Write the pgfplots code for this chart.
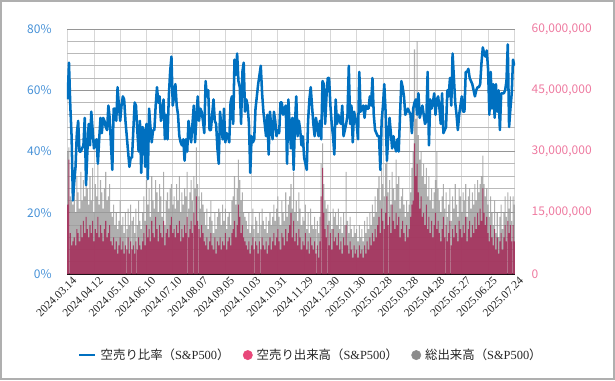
\documentclass[border=0pt]{standalone}
\usepackage{fontspec}
\setmainfont{Liberation Serif}
\newfontfamily\cjk{Noto Sans CJK JP}
\usepackage{pgfplots}
\pgfplotsset{compat=1.18}
\usepackage{pgfplotstable}
\definecolor{lineblue}{RGB}{0,112,192}
\definecolor{leftblue}{RGB}{70,145,215}
\definecolor{rightpink}{RGB}{238,122,160}
\definecolor{legpink}{RGB}{232,72,122}
\definecolor{leggray}{RGB}{140,140,140}
\definecolor{barpink}{RGB}{165,45,90}
\definecolor{bargray}{RGB}{155,155,155}
\definecolor{gridmaj}{RGB}{150,150,150}
\definecolor{gridmin}{RGB}{185,185,185}
\definecolor{gridx}{RGB}{215,215,215}
\definecolor{framegray}{RGB}{175,175,175}
\pgfplotstableread{
i s t r
0 17 30 57
1 28 31 69
2 10 19 55
3 7 18 45
4 8 17 24
5 9 22 30
6 7 15 35
7 11 24 46
8 10 20 50
9 8 16 40
10 12 25 40
11 9 18 41
12 13 23 42
13 10 19 51
14 14 29 29
15 11 21 40
16 9 17 49
17 12 24 42
18 10 18 53
19 13 26 47
20 8 15 41
21 11 22 43
22 10 19 44
23 14 27 36
24 9 17 44
25 12 23 51
26 10 20 46
27 8 16 51
28 11 21 50
29 13 25 48
30 9 18 47
31 10 19 55
32 12 22 51
33 8 15 42
34 7 14 34
35 9 17 54
36 6 12 54
37 8 15 50
38 5 11 61
39 7 13 55
40 9 18 50
41 6 12 55
42 8 14 58
43 5 10 57
44 7 15 50
45 6 11 45
46 9 16 40
47 5 12 35
48 8 17 38
49 6 13 38
50 7 14 47
51 5 10 56
52 8 16 55
53 6 12 47
54 9 18 40
55 7 13 50
56 6 11 33
57 8 15 48
58 10 19 47
59 7 13 35
60 12 23 49
61 9 17 31
62 11 21 54
63 8 14 48
64 13 24 43
65 10 18 47
66 9 16 47
67 14 23 55
68 11 20 61
69 8 15 56
70 12 22 58
71 10 19 50
72 9 14 53
73 13 25 57
74 7 12 44
75 10 18 52
76 11 20 44
77 9 16 58
78 12 21 66
79 14 22 71
80 10 17 55
81 11 19 58
82 9 16 62
83 12 22 55
84 10 18 52
85 13 24 45
86 8 15 43
87 11 20 42
88 9 17 44
89 12 21 37
90 10 19 44
91 14 25 40
92 9 16 50
93 11 20 46
94 13 23 43
95 10 18 49
96 15 24 55
97 12 21 43
98 19 31 51
99 13 22 58
100 11 19 50
101 9 16 54
102 12 20 53
103 10 17 50
104 8 15 46
105 7 12 63
106 9 16 58
107 6 11 60
108 8 14 47
109 10 18 47
110 7 13 52
111 6 10 57
112 9 15 50
113 5 11 49
114 8 14 41
115 7 16 36
116 9 15 53
117 6 12 48
118 8 17 44
119 7 13 54
120 10 16 43
121 6 11 46
122 8 14 45
123 9 15 43
124 7 12 56
125 10 18 58
126 11 19 49
127 13 24 70
128 9 17 65
129 12 21 72
130 17 28 63
131 14 23 61
132 10 18 49
133 12 20 66
134 9 15 69
135 8 14 53
136 7 13 57
137 6 11 55
138 8 15 49
139 5 10 33
140 7 12 45
141 9 16 43
142 6 11 44
143 8 14 54
144 7 13 58
145 5 10 62
146 8 15 65
147 6 12 68
148 9 16 59
149 7 13 53
150 6 11 49
151 8 14 45
152 5 10 52
153 7 13 39
154 9 15 53
155 6 12 48
156 8 14 44
157 10 17 53
158 7 13 50
159 9 16 45
160 11 19 47
161 8 14 46
162 6 12 56
163 10 18 56
164 9 15 52
165 7 13 54
166 11 20 55
167 8 14 36
168 10 17 57
169 12 19 48
170 15 22 41
171 9 16 51
172 13 25 34
173 8 15 49
174 10 18 58
175 7 13 45
176 11 20 50
177 9 16 47
178 6 12 42
179 8 14 45
180 7 13 38
181 10 17 36
182 6 11 34
183 8 15 50
184 5 10 57
185 9 16 61
186 7 12 55
187 6 11 49
188 8 14 45
189 5 11 51
190 7 13 48
191 4 10 45
192 8 14 50
193 19 27 44
194 26 32 63
195 15 22 62
196 11 18 49
197 9 16 58
198 12 17 64
199 7 13 64
200 10 15 55
201 6 11 49
202 11 16 45
203 8 14 39
204 9 15 57
205 7 12 49
206 10 16 52
207 6 11 50
208 8 14 49
209 5 10 55
210 9 15 45
211 7 12 47
212 12 25 49
213 7 13 52
214 5 10 68
215 8 14 49
216 6 11 55
217 4 9 43
218 7 12 53
219 5 10 51
220 6 11 49
221 4 8 44
222 7 12 66
223 5 9 53
224 6 11 54
225 4 8 55
226 7 13 51
227 5 10 55
228 8 14 54
229 6 11 54
230 9 15 58
231 7 12 55
232 10 17 64
233 8 14 52
234 11 19 47
235 9 15 46
236 12 21 45
237 14 24 45
238 10 18 34
239 16 26 50
240 13 22 55
241 11 19 62
242 15 27 53
243 19 28 37
244 12 20 45
245 14 23 51
246 10 17 46
247 17 25 41
248 13 21 45
249 11 18 42
250 15 28 40
251 12 22 44
252 14 24 40
253 9 16 52
254 11 19 63
255 13 21 61
256 10 17 58
257 8 14 52
258 12 18 53
259 9 15 54
260 11 17 53
261 14 20 52
262 17 26 46
263 18 30 54
264 32 55 56
265 24 38 57
266 27 57 52
267 20 34 59
268 16 28 51
269 19 30 53
270 14 24 55
271 15 27 52
272 12 22 49
273 17 26 50
274 11 19 66
275 14 24 42
276 10 18 57
277 13 21 54
278 9 16 56
279 12 20 59
280 15 23 52
281 11 30 57
282 13 21 58
283 10 18 54
284 8 15 49
285 11 19 59
286 14 22 46
287 9 16 47
288 12 20 48
289 8 14 60
290 10 17 58
291 13 21 64
292 7 13 55
293 11 19 72
294 9 16 64
295 12 22 56
296 10 17 52
297 8 14 47
298 13 21 52
299 11 19 55
300 9 15 58
301 12 20 53
302 10 18 53
303 14 22 66
304 8 14 66
305 11 19 67
306 13 21 64
307 9 16 63
308 12 20 62
309 10 17 60
310 14 22 58
311 11 18 60
312 15 23 61
313 12 20 61
314 16 22 62
315 13 24 69
316 21 29 74
317 15 22 72
318 12 19 71
319 14 21 73
320 10 17 67
321 8 14 52
322 12 19 66
323 9 15 54
324 7 12 62
325 11 18 51
326 6 10 62
327 9 15 53
328 5 9 60
329 8 14 47
330 10 17 59
331 6 11 59
332 9 15 59
333 12 19 60
334 8 14 63
335 13 20 75
336 10 16 48
337 12 19 54
338 8 13 59
339 12 19 70
340 8 17 68
}\chartdata
\begin{document}
\begin{tikzpicture}
\path[use as bounding box] (0,0) rectangle (461.25pt,285pt);
\draw[framegray, line width=1.2pt] (0.6pt,0.6pt) rectangle (460.65pt,284.4pt);
\begin{axis}[
  at={(50.25pt,79.5pt)}, anchor=south west, scale only axis,
  width=336pt, height=183.75pt,
  xmin=-0.5, xmax=340.5, ymin=0, ymax=60,
  axis x line*=bottom, axis y line*=right,
  x axis line style={black, line width=0.9pt},
  y axis line style={draw=none},
  xtick={0,20,...,340},
  xticklabels={2024.03.14,2024.04.12,2024.05.10,2024.06.10,2024.07.10,2024.08.07,2024.09.05,2024.10.03,2024.10.31,2024.11.29,2024.12.30,2025.01.30,2025.02.28,2025.03.28,2025.04.28,2025.05.27,2025.06.25,2025.07.24},
  xticklabel style={rotate=45, anchor=north east, font=\fontsize{8.6}{9}\selectfont, text=black!85, inner sep=1pt, xshift=2.5pt, yshift=-2pt},
  ytick={0,15,30,45,60},
  yticklabels={0,{15,000,000},{30,000,000},{45,000,000},{60,000,000}},
  yticklabel style={font=\cjk\fontsize{9}{10}\selectfont, text=rightpink, xshift=9pt},
  minor ytick={3,6,9,12,18,21,24,27,33,36,39,42,48,51,54,57},
  grid=both,
  major x grid style={gridx, line width=0.6pt},
  major y grid style={gridmaj, line width=0.7pt},
  minor y grid style={gridmin, line width=0.6pt},
  major tick length=0pt, minor tick length=0pt,
]
\addplot[ybar, bar width=0.8, bar shift=0pt, fill=bargray, fill opacity=0.8, draw=none] table[x=i, y=t] {\chartdata};
\addplot[ybar, bar width=0.8, bar shift=0pt, fill=barpink, fill opacity=0.88, draw=none] table[x=i, y=s] {\chartdata};
\end{axis}
\begin{axis}[
  at={(50.25pt,79.5pt)}, anchor=south west, scale only axis,
  width=336pt, height=183.75pt,
  xmin=-0.5, xmax=340.5, ymin=0, ymax=80,
  axis x line=none, axis y line*=left,
  y axis line style={draw=none},
  ytick={0,20,40,60,80},
  yticklabels={0\%,20\%,40\%,60\%,80\%},
  yticklabel style={font=\cjk\fontsize{9}{10}\selectfont, text=leftblue, xshift=-8pt},
  major tick length=0pt,
  legend columns=3,
  legend style={at={(0.545,-0.331)}, anchor=center, draw=none, fill=none,
    font=\fontsize{9.3}{10}\selectfont, text=black!85,
    /tikz/every odd column/.append style={column sep=1pt},
    /tikz/every even column/.append style={column sep=8pt}},
]
\addplot[lineblue, line width=1.9pt, line join=round, no markers,
  legend image code/.code={\draw[lineblue, line width=2pt] (0pt,0pt) -- (12pt,0pt);}]
  table[x=i, y=r] {\chartdata};
\addlegendentry{{\cjk 空売り比率（}S\&P500{\cjk ）}}
\addlegendimage{legend image code/.code={\fill[legpink] (6pt,0pt) circle (3.5pt);}}
\addlegendentry{{\cjk 空売り出来高（}S\&P500{\cjk ）}}
\addlegendimage{legend image code/.code={\fill[leggray] (6pt,0pt) circle (3.5pt);}}
\addlegendentry{{\cjk 総出来高（}S\&P500{\cjk ）}}
\end{axis}
\end{tikzpicture}
\end{document}
